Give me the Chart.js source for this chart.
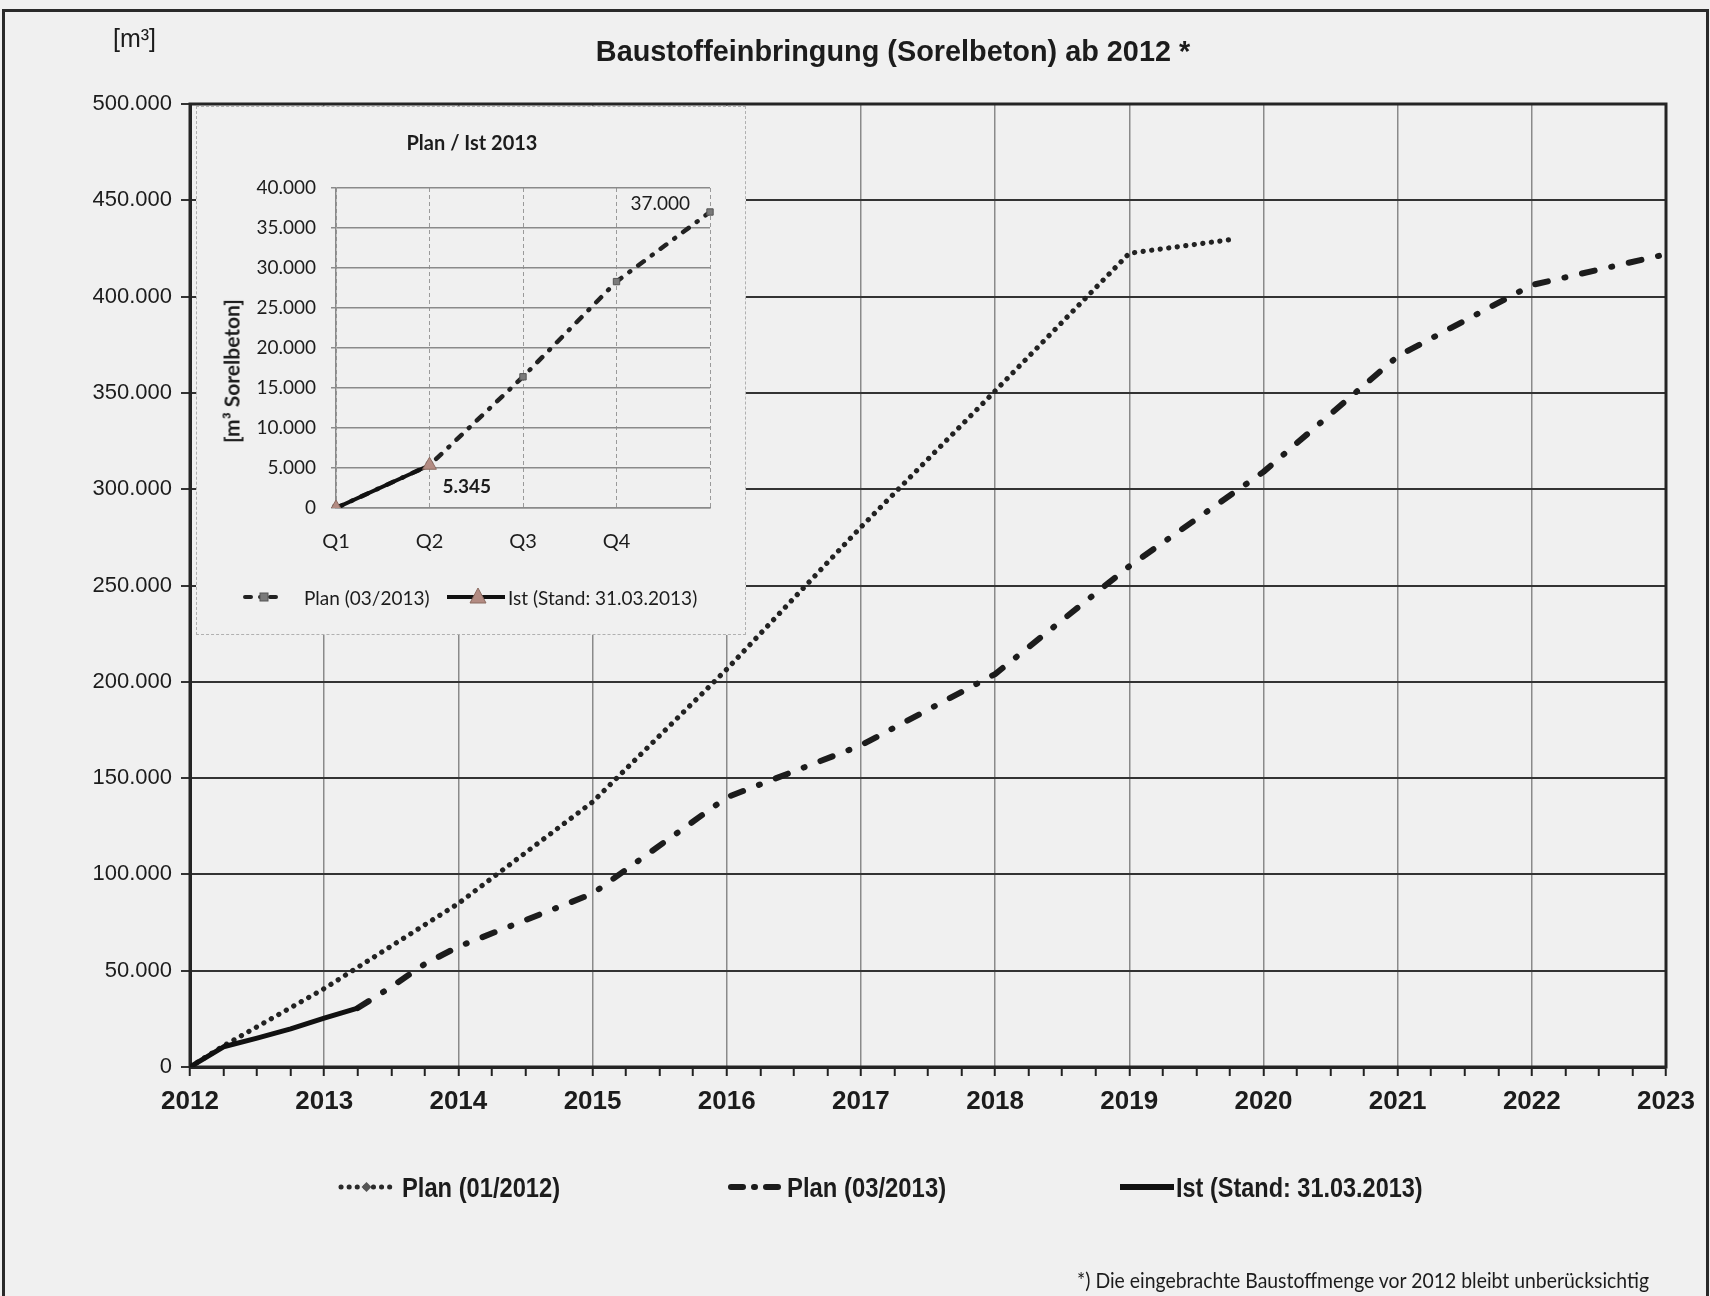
<!DOCTYPE html>
<html><head><meta charset="utf-8">
<script src="https://cdn.jsdelivr.net/npm/chart.js@4.4.1/dist/chart.umd.min.js"></script>
<style>
html,body{margin:0;padding:0;background:#f0f0f0;}
body{width:1710px;height:1296px;position:relative;overflow:hidden;color:#1c1c1c;font-family:'Liberation Sans',Arial,sans-serif;}
#frame{position:absolute;left:2px;top:9px;width:1707px;height:1289px;border:3px solid #2a2a2a;border-bottom:1px dotted #999;box-sizing:border-box;}
#main{position:absolute;left:0;top:0;}
.t{position:absolute;white-space:nowrap;line-height:1;transform-origin:left center;transform:translateY(-50%);}
.c{transform-origin:center center;transform:translate(-50%,-50%);}
#inset{position:absolute;left:196px;top:106px;width:550px;height:529px;background:#f0f0f0;border:1px dashed #b0b0b0;box-sizing:border-box;}
#insetCanvas{position:absolute;left:0;top:0;}
.lato{font-family:Lato,'Open Sans',sans-serif;}
</style></head>
<body>
<div id="frame"></div>
<canvas id="main" width="1710" height="1296"></canvas>

<div class="t" style="left:113px;top:38px;font-size:25px;">[m³]</div>
<div class="t c" data-w="594" style="left:893px;top:51px;font-size:30px;font-weight:bold;">Baustoffeinbringung (Sorelbeton) ab 2012 *</div>

<div id="inset">
  <canvas id="insetCanvas" width="548" height="527"></canvas>
  <div class="t c lato" style="left:275px;top:35px;font-size:20px;font-weight:bold;">Plan / Ist 2013</div>
  <div class="t lato" style="left:34px;top:264px;font-size:21px;font-weight:bold;transform-origin:center center;transform:translate(-50%,-50%) rotate(-90deg);">[m³ Sorelbeton]</div>
  <svg style="position:absolute;left:44px;top:480px;" width="48" height="20">
    <line x1="4" y1="10" x2="44" y2="10" stroke="#222" stroke-width="4" stroke-dasharray="6,9,1,9" stroke-linecap="round"/>
    <rect x="19" y="6" width="8" height="8" fill="#7a7a7a" stroke="#555" stroke-width="1"/>
  </svg>
  <div class="t lato" style="left:107px;top:490px;font-size:19px;">Plan (03/2013)</div>
  <svg style="position:absolute;left:250px;top:478px;" width="60" height="24">
    <line x1="0" y1="12" x2="58" y2="12" stroke="#111" stroke-width="4"/>
    <polygon points="31,3 39,18 23,18" fill="#b38b82" stroke="#8a6a60" stroke-width="1"/>
  </svg>
  <div class="t lato" style="left:311px;top:490px;font-size:19px;">Ist (Stand: 31.03.2013)</div>
</div>

<svg style="position:absolute;left:338px;top:1177px;" width="60" height="20">
  <line x1="3" y1="10" x2="55" y2="10" stroke="#2a2a2a" stroke-width="5" stroke-dasharray="0.1,8" stroke-linecap="round"/>
  <rect x="25" y="6.5" width="7" height="7" fill="#555" transform="rotate(45 28.5 10)"/>
</svg>
<div class="t" data-w="158" style="left:402px;top:1188px;font-size:27px;font-weight:bold;">Plan (01/2012)</div>
<svg style="position:absolute;left:726px;top:1177px;" width="62" height="20">
  <line x1="5" y1="10" x2="58" y2="10" stroke="#1c1c1c" stroke-width="6" stroke-dasharray="12,11,1,11" stroke-linecap="round"/>
</svg>
<div class="t" data-w="159" style="left:787px;top:1188px;font-size:27px;font-weight:bold;">Plan (03/2013)</div>
<svg style="position:absolute;left:1118px;top:1177px;" width="58" height="20">
  <line x1="2" y1="10" x2="56" y2="10" stroke="#111" stroke-width="6"/>
</svg>
<div class="t" data-w="247" style="left:1176px;top:1188px;font-size:27px;font-weight:bold;">Ist (Stand: 31.03.2013)</div>

<div class="t lato" data-w="572" style="left:1077px;top:1279px;font-size:21px;">*) Die eingebrachte Baustoffmenge vor 2012 bleibt unberücksichtig</div>

<script>
// ---- main chart data ----
const plan2012Years  = [2012, 2012.25, 2013, 2014, 2015, 2016, 2017, 2018, 2019, 2019.8];
const plan2012Values = [0, 11000, 40700, 84900, 137600, 206500, 280300, 351000, 422500, 430000];

const plan2013Years  = [2013.25, 2013.5, 2013.75, 2014, 2015, 2016, 2017, 2018, 2019, 2020, 2021, 2022, 2023];
const plan2013Values = [30600, 41600, 53500, 62500, 90000, 140000, 167000, 204000, 260000, 309000, 369000, 406000, 422000];

const istYears  = [2012, 2012.25, 2012.5, 2012.75, 2013, 2013.25];
const istValues = [0, 10500, 15000, 19800, 25400, 30600];

const yearMin = 2012, yearMax = 2023;
const yMax = 500000, yStep = 50000;

// ---- inset data ----
const insetQuarters = ['Q1', 'Q2', 'Q3', 'Q4', ''];
const insetPlan = [0, 5345, 16400, 28300, 37000];
const insetIst  = [0, 5345];
const insetYMax = 40000, insetYStep = 5000;

// fit text widths (narrow-font substitute)
document.querySelectorAll('[data-w]').forEach(el => {
  const k = (+el.dataset.w) / el.offsetWidth;
  const base = el.classList.contains('c') ? 'translate(-50%,-50%)' : 'translateY(-50%)';
  el.style.transform = base + ' scaleX(' + k.toFixed(4) + ')';
});

const fmt = v => String(Math.round(v)).replace(/\B(?=(\d{3})+(?!\d))/g, '.');
const pts = (xs, ys) => xs.map((x, i) => ({x, y: ys[i]}));

const borderPlugin = {
  id: 'plotBorder',
  beforeDatasetsDraw(chart, args, opts) {
    const {ctx, chartArea: a} = chart;
    ctx.save();
    ctx.lineWidth = opts.width || 3;
    ctx.strokeStyle = opts.color || '#222';
    ctx.strokeRect(a.left, a.top, a.right - a.left, a.bottom - a.top);
    ctx.restore();
  }
};

new Chart(document.getElementById('main'), {
  type: 'line',
  data: {
    datasets: [
      {label: 'Plan (01/2012)', data: pts(plan2012Years, plan2012Values), order: 2,
       borderColor: '#222', borderWidth: 5.2, borderDash: [0.1, 8.5], borderCapStyle: 'round',
       borderJoinStyle: 'round', pointRadius: 0, tension: 0, fill: false},
      {label: 'Plan (03/2013)', data: pts(plan2013Years, plan2013Values), order: 1,
       borderColor: '#1c1c1c', borderWidth: 6, borderDash: [13, 17, 1, 17], borderCapStyle: 'round',
       borderJoinStyle: 'round', pointRadius: 0, tension: 0, fill: false},
      {label: 'Ist (Stand: 31.03.2013)', data: pts(istYears, istValues), order: 0,
       borderColor: '#111', borderWidth: 5, borderCapStyle: 'round', borderJoinStyle: 'round',
       pointRadius: 0, tension: 0, fill: false}
    ]
  },
  options: {
    responsive: false, animation: false, devicePixelRatio: 1,
    layout: {padding: {left: 0, right: 44, top: 104, bottom: 169}},
    plugins: {legend: {display: false}, title: {display: false}, tooltip: {enabled: false},
              plotBorder: {width: 3, color: '#242424'}},
    scales: {
      x: {
        type: 'linear', min: yearMin, max: yearMax,
        afterFit: s => { s.height = 60; },
        ticks: {stepSize: 0.25, autoSkip: false, maxRotation: 0, padding: 10, color: '#1c1c1c',
                font: {family: "'Liberation Sans', Arial, sans-serif", size: 26, weight: 'bold'},
                callback: v => Number.isInteger(v) ? String(v) : ''},
        grid: {color: c => (c.tick && Number.isInteger(c.tick.value)) ? '#8a8a8a' : 'rgba(0,0,0,0)',
               lineWidth: 1.5, tickColor: '#222', tickLength: 9, tickWidth: 2},
        border: {display: true, color: '#222', width: 3}
      },
      y: {
        type: 'linear', min: 0, max: yMax,
        afterFit: s => { s.width = 190; },
        ticks: {stepSize: yStep, padding: 9, color: '#1c1c1c',
                font: {family: "'Liberation Sans', Arial, sans-serif", size: 22},
                callback: v => fmt(v)},
        grid: {color: '#333', lineWidth: 2, tickColor: '#333', tickLength: 9},
        border: {display: true, color: '#222', width: 3}
      }
    }
  },
  plugins: [borderPlugin]
});

const labelPlugin = {
  id: 'insetLabels',
  afterDatasetsDraw(chart) {
    const {ctx} = chart;
    const pEnd = chart.getDatasetMeta(0).data[insetPlan.length - 1];
    const pIst = chart.getDatasetMeta(1).data[insetIst.length - 1];
    ctx.save();
    ctx.fillStyle = '#1c1c1c';
    ctx.textBaseline = 'middle';
    ctx.font = "19px Lato, 'Open Sans', sans-serif";
    ctx.textAlign = 'right';
    ctx.fillText(fmt(insetPlan[insetPlan.length - 1]), pEnd.x - 20, pEnd.y - 8);
    ctx.font = "bold 19px Lato, 'Open Sans', sans-serif";
    ctx.textAlign = 'left';
    ctx.fillText(fmt(insetIst[insetIst.length - 1]), pIst.x + 13, pIst.y + 22);
    ctx.restore();
  }
};

new Chart(document.getElementById('insetCanvas'), {
  type: 'line',
  data: {
    labels: insetQuarters,
    datasets: [
      {label: 'Plan (03/2013)', data: insetPlan, order: 1,
       borderColor: '#222', borderWidth: 4.5, borderDash: [7, 10, 1, 10], borderCapStyle: 'round',
       tension: 0, fill: false,
       pointStyle: 'rect', pointRadius: 4.5, pointBackgroundColor: '#7a7a7a', pointBorderColor: '#555', pointBorderWidth: 1},
      {label: 'Ist (Stand: 31.03.2013)', data: insetIst, order: 0,
       borderColor: '#111', borderWidth: 4, tension: 0, fill: false,
       pointStyle: 'triangle', pointRadius: 8, pointBackgroundColor: '#b38b82', pointBorderColor: '#8a6a60', pointBorderWidth: 1}
    ]
  },
  options: {
    responsive: false, animation: false, devicePixelRatio: 1,
    layout: {padding: {left: 0, right: 35, top: 81, bottom: 76}},
    plugins: {legend: {display: false}, title: {display: false}, tooltip: {enabled: false}},
    scales: {
      x: {
        type: 'category', offset: false,
        afterFit: s => { s.height = 50; },
        ticks: {padding: 22, color: '#1c1c1c', autoSkip: false, maxRotation: 0,
                font: {family: "Lato, 'Open Sans', sans-serif", size: 20}},
        grid: {color: '#9a9a9a', lineWidth: 1, drawTicks: false},
        border: {display: true, color: '#8a8a8a', width: 1.5, dash: [4, 3]}
      },
      y: {
        min: 0, max: insetYMax,
        afterFit: s => { s.width = 139; },
        ticks: {stepSize: insetYStep, padding: 15, color: '#1c1c1c',
                font: {family: "Lato, 'Open Sans', sans-serif", size: 19},
                callback: v => fmt(v)},
        grid: {color: '#8a8a8a', lineWidth: 1.5, tickLength: 5, tickColor: '#8a8a8a'},
        border: {display: true, color: '#8a8a8a', width: 1.5}
      }
    }
  },
  plugins: [labelPlugin]
});
</script>
</body></html>
